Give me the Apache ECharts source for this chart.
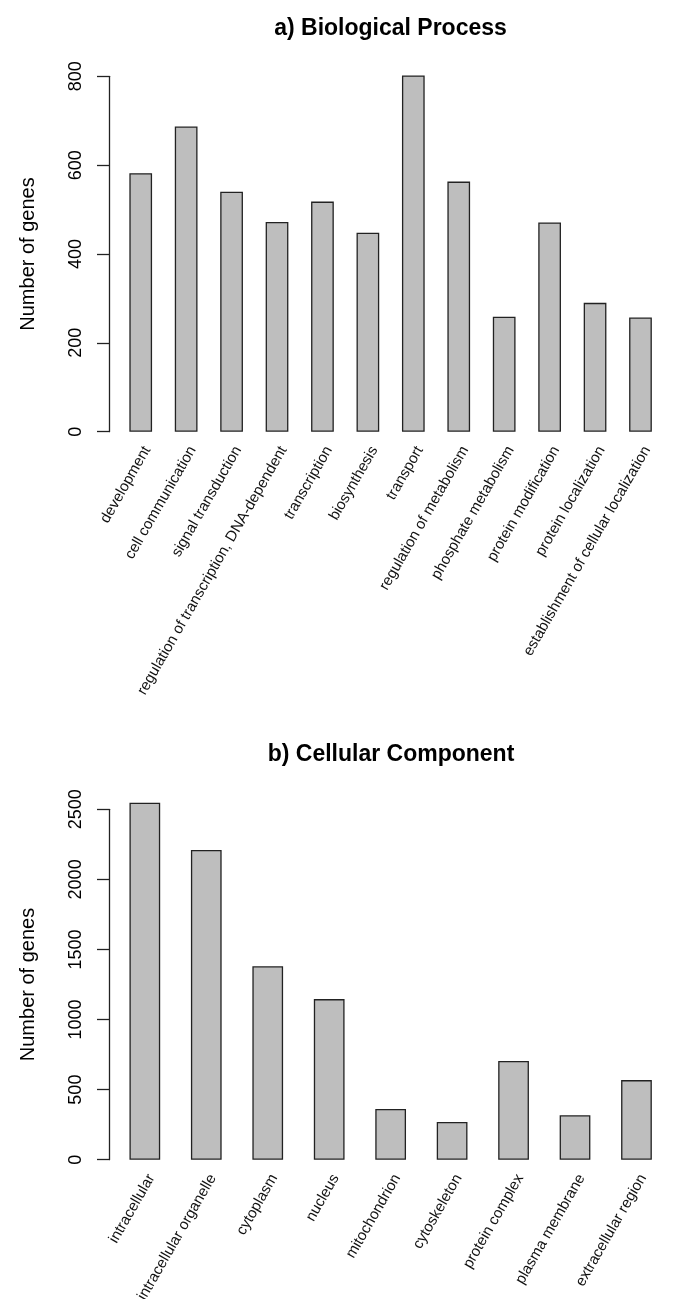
<!DOCTYPE html>
<html>
<head>
<meta charset="utf-8">
<script src="https://cdn.jsdelivr.net/npm/echarts@6/dist/echarts.min.js"></script>
<style>
html,body{margin:0;padding:0;background:#fff;}
#chart{width:685px;height:1299px;}
</style>
</head>
<body>
<div id="chart"></div>
<script>
// Panel a) Biological Process
var bpTitle = 'a) Biological Process';
var bpCategories = ['development', 'cell communication', 'signal transduction',
  'regulation of transcription, DNA-dependent', 'transcription', 'biosynthesis',
  'transport', 'regulation of metabolism', 'phosphate metabolism',
  'protein modification', 'protein localization', 'establishment of cellular localization'];
var bpValues = [582, 687, 540, 472, 518, 448, 802, 563, 259, 471, 290, 257];
var bpTicks = [0, 200, 400, 600, 800];

// Panel b) Cellular Component
var ccTitle = 'b) Cellular Component';
var ccCategories = ['intracellular', 'intracellular organelle', 'cytoplasm', 'nucleus',
  'mitochondrion', 'cytoskeleton', 'protein complex', 'plasma membrane', 'extracellular region'];
var ccValues = [2547, 2210, 1380, 1146, 362, 269, 704, 317, 568];
var ccTicks = [0, 500, 1000, 1500, 2000, 2500];

var yName = 'Number of genes';
var FONT = '"Liberation Sans", Arial, Helvetica, sans-serif';

function yAxisFor(gridIndex, ticks, offset) {
  return {
    type: 'value', gridIndex: gridIndex,
    min: ticks[0], max: ticks[ticks.length - 1],
    interval: ticks[1] - ticks[0],
    offset: offset,
    name: yName, nameLocation: 'middle', nameGap: 71,
    nameTextStyle: {fontFamily: FONT, fontSize: 20, color: '#000'},
    axisLine: {show: true, lineStyle: {color: '#222', width: 1.3}},
    axisTick: {show: true, length: 12, lineStyle: {color: '#222', width: 1.3}},
    axisLabel: {rotate: 90, margin: 24, fontFamily: FONT, fontSize: 18, color: '#000',
      formatter: function (v) { return String(v); }},
    splitLine: {show: false}
  };
}
function xAxisFor(gridIndex, cats) {
  return {
    type: 'category', gridIndex: gridIndex, data: cats,
    boundaryGap: true,
    axisLine: {show: false}, axisTick: {show: false},
    axisLabel: {rotate: 60, interval: 0, margin: 12, verticalAlign: 'top',
      fontFamily: FONT, fontSize: 15, color: '#111'}
  };
}
function barFor(idx, vals) {
  return {
    type: 'bar', xAxisIndex: idx, yAxisIndex: idx, data: vals,
    barWidth: '50%', clip: false, silent: true,
    itemStyle: {color: '#bebebe', borderColor: '#222', borderWidth: 1.3}
  };
}

var chart = echarts.init(document.getElementById('chart'), null, {renderer: 'canvas'});
chart.setOption({
  animation: false,
  backgroundColor: '#fff',
  title: [
    {text: bpTitle, left: 390.5, top: 17, textAlign: 'center', padding: 0,
      textStyle: {fontFamily: FONT, fontSize: 23, fontWeight: 'bold', color: '#000'}},
    {text: ccTitle, left: 391, top: 743, textAlign: 'center', padding: 0,
      textStyle: {fontFamily: FONT, fontSize: 23, fontWeight: 'bold', color: '#000'}}
  ],
  grid: [
    {left: 118, width: 545.2, top: 76.3, height: 355.4, containLabel: false, outerBoundsMode: 'none'},
    {left: 114.1, width: 553.1, top: 809.3, height: 350.4, containLabel: false, outerBoundsMode: 'none'}
  ],
  xAxis: [xAxisFor(0, bpCategories), xAxisFor(1, ccCategories)],
  yAxis: [yAxisFor(0, bpTicks, 9), yAxisFor(1, ccTicks, 5.1)],
  series: [barFor(0, bpValues), barFor(1, ccValues)]
});
</script>
</body>
</html>
